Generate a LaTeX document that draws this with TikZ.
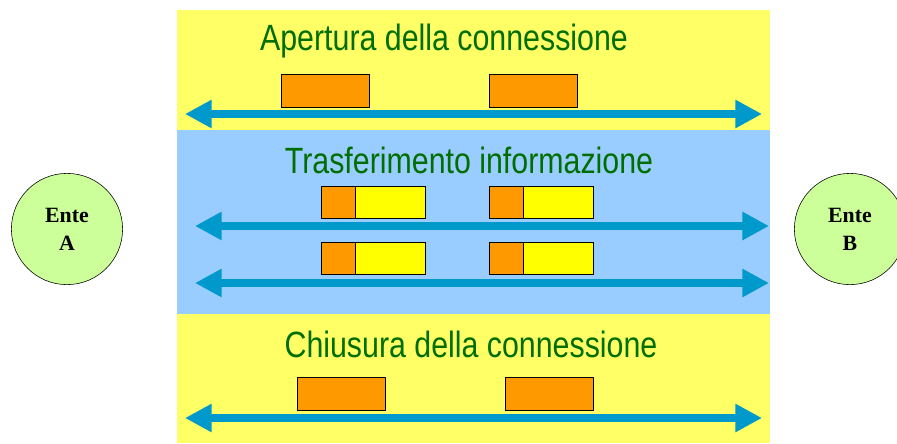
\documentclass[tikz,border=0pt]{standalone}
\usepackage{fontspec}
\setmainfont{Liberation Serif}
\newfontfamily\narrowsans[FakeStretch=0.83]{Liberation Sans}
\usetikzlibrary{arrows.meta}
\usetikzlibrary{positioning}

\definecolor{bandyellow}{RGB}{255,255,102}
\definecolor{bandblue}{RGB}{153,204,255}
\definecolor{pduorange}{RGB}{255,153,0}
\definecolor{datayellow}{RGB}{255,255,0}
\definecolor{arrowblue}{RGB}{0,153,204}
\definecolor{titlegreen}{RGB}{0,110,0}
\definecolor{entegreen}{RGB}{204,255,153}

\tikzset{
  phase/.style={font=\narrowsans\fontsize{26}{30}\selectfont, text=titlegreen},
  ente/.style={circle, draw, thin, fill=entegreen, minimum size=2.78cm,
               align=center, font=\bfseries\fontsize{15.5}{20}\selectfont},
  ctrl/.style={draw, thin, fill=pduorange, minimum width=2.2cm,
               minimum height=0.82cm, inner sep=0pt, outer sep=0pt},
  hdr/.style={draw, thin, fill=pduorange, minimum width=0.85cm,
              minimum height=0.8cm, inner sep=0pt, outer sep=0pt},
  payload/.style={draw, thin, fill=datayellow, minimum width=1.75cm,
                  minimum height=0.8cm, inner sep=0pt, outer sep=0pt},
  dblarrow/.style={<->, draw=arrowblue, line width=5.7pt},
}

\begin{document}
\begin{tikzpicture}[x=0.025cm, y=-0.025cm,
    >={Triangle[length=19pt, width=19pt]}]
      \useasboundingbox (0,0) rectangle (897,443);
      \clip (0,0) rectangle (897,443);

      % fasce
      \fill[bandyellow] (177,10) rectangle (770,130);
      \fill[bandblue] (177,130) rectangle (770,314);
      \fill[bandyellow] (177,314) rectangle (770,443);

      % apertura
      \node[phase] (open) at (444,41) {Apertura della connessione};
      \node[ctrl] (open-1) at (325,90.5) {};
      \node[ctrl] (open-2) at (533,90.5) {};
      \coordinate (open-l) at (185,114);
      \coordinate (open-r) at (762,114);
      \draw[dblarrow] (open-l) -- (open-r);

      % trasferimento
      \node[phase] (data) at (469,160) {Trasferimento informazione};
      \node[hdr] (data-h1) at (338,202) {};
      \node[payload, right=0pt of data-h1] (data-p1) {};
      \node[hdr] (data-h2) at (506,202) {};
      \node[payload, right=0pt of data-h2] (data-p2) {};
      \node[hdr] (data-h3) at (338,258) {};
      \node[payload, right=0pt of data-h3] (data-p3) {};
      \node[hdr] (data-h4) at (506,258) {};
      \node[payload, right=0pt of data-h4] (data-p4) {};
      \coordinate (data-l1) at (195,226);
      \coordinate (data-r1) at (769,226);
      \coordinate (data-l2) at (195,283);
      \coordinate (data-r2) at (769,283);
      \draw[dblarrow] (data-l1) -- (data-r1);
      \draw[dblarrow] (data-l2) -- (data-r2);

      % chiusura
      \node[phase] (close) at (471,344) {Chiusura della connessione};
      \node[ctrl] (close-1) at (341,394) {};
      \node[ctrl] (close-2) at (549,394) {};
      \coordinate (close-l) at (185,418);
      \coordinate (close-r) at (762,418);
      \draw[dblarrow] (close-l) -- (close-r);

      % enti
      \node[ente] (enteA) at (67,229) {Ente\\A};
      \node[ente] (enteB) at (850,229) {Ente\\B};
\end{tikzpicture}
\end{document}
